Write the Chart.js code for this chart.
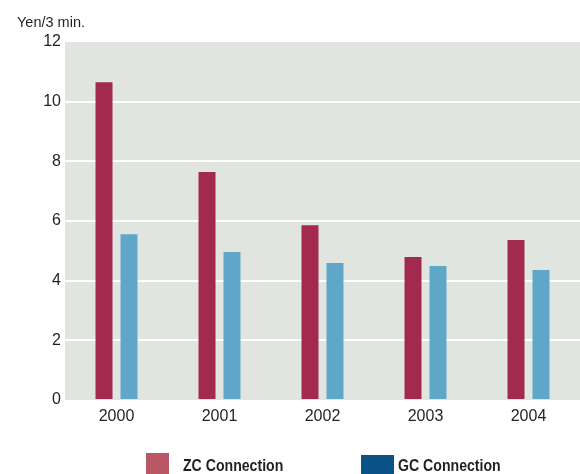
<!DOCTYPE html>
<html><head><meta charset="utf-8">
<script src="https://cdn.jsdelivr.net/npm/chart.js@4/dist/chart.umd.min.js"></script>
<style>html,body{margin:0;padding:0;background:#fff}#wrap{width:580px;height:474px}</style>
</head><body><div id="wrap"><canvas id="c" width="580" height="474"></canvas></div>
<script>
const categories = ["2000","2001","2002","2003","2004"];
const zcValues = [10.65, 7.64, 5.86, 4.79, 5.36];
const gcValues = [5.56, 4.96, 4.59, 4.49, 4.36];
const seriesNames = ["ZC Connection","GC Connection"];
const yTicks = [0,2,4,6,8,10,12];
const axisTitle = "Yen/3 min.";

const plotBg = {
  id:'plotBg',
  beforeDraw(chart){
    const {ctx, chartArea:a} = chart;
    ctx.save(); ctx.fillStyle='#e0e5df';
    ctx.fillRect(a.left,a.top,a.right-a.left,a.bottom-a.top); ctx.restore();
  },
  afterDraw(chart){
    const {ctx, chartArea:a} = chart;
    ctx.save();
    ctx.fillStyle='#231f20';
    ctx.font='14.5px "Liberation Sans", Arial, sans-serif';
    ctx.textBaseline='alphabetic'; ctx.textAlign='left';
    ctx.fillText(axisTitle, 17, 27);
    // legend
    const cx = (a.left+a.right)/2;
    const items = [
      {name:seriesNames[0], color:'#b95865', x:cx-176.5, w:23, y:453, tx:14},
      {name:seriesNames[1], color:'#0b5289', x:cx+38.5, w:33, y:455, tx:4}
    ];
    ctx.font='bold 17px "Liberation Sans", Arial, sans-serif';
    items.forEach(it=>{
      ctx.fillStyle=it.color; ctx.fillRect(it.x, it.y, it.w, 474-it.y);
      ctx.fillStyle='#231f20';
      const tx = it.x+it.w+it.tx;
      ctx.save();
      ctx.translate(tx, 471);
      ctx.scale(0.83, 1);
      ctx.fillText(it.name, 0, 0);
      ctx.restore();
    });
    ctx.restore();
  }
};

new Chart(document.getElementById('c'), {
  type:'bar',
  data:{labels:categories, datasets:[
    {label:seriesNames[0], data:zcValues, backgroundColor:'#a2294f', categoryPercentage:0.485, barPercentage:0.68},
    {label:seriesNames[1], data:gcValues, backgroundColor:'#5fa7c9', categoryPercentage:0.485, barPercentage:0.68}
  ]},
  options:{
    responsive:false, animation:false,
    layout:{padding:{top:42,right:0,left:0,bottom:0}},
    plugins:{legend:{display:false}, tooltip:{enabled:false}},
    scales:{
      x:{
        grid:{display:false, drawTicks:false}, border:{display:false},
        ticks:{color:'#231f20', font:{family:'"Liberation Sans", Arial, sans-serif', size:16}, padding:7, maxRotation:0},
        afterFit(s){ s.height = 74; }
      },
      y:{
        min:0, max:12,
        afterBuildTicks(s){ s.ticks = yTicks.map(v=>({value:v})); },
        grid:{drawTicks:false, lineWidth:2, color:(c)=> (c.tick && (c.tick.value===0||c.tick.value===12)) ? 'rgba(0,0,0,0)' : '#ffffff'},
        border:{display:false},
        ticks:{color:'#231f20', font:{family:'"Liberation Sans", Arial, sans-serif', size:16}, padding:4},
        afterFit(s){ s.width = 65; }
      }
    }
  },
  plugins:[plotBg]
});
</script></body></html>
